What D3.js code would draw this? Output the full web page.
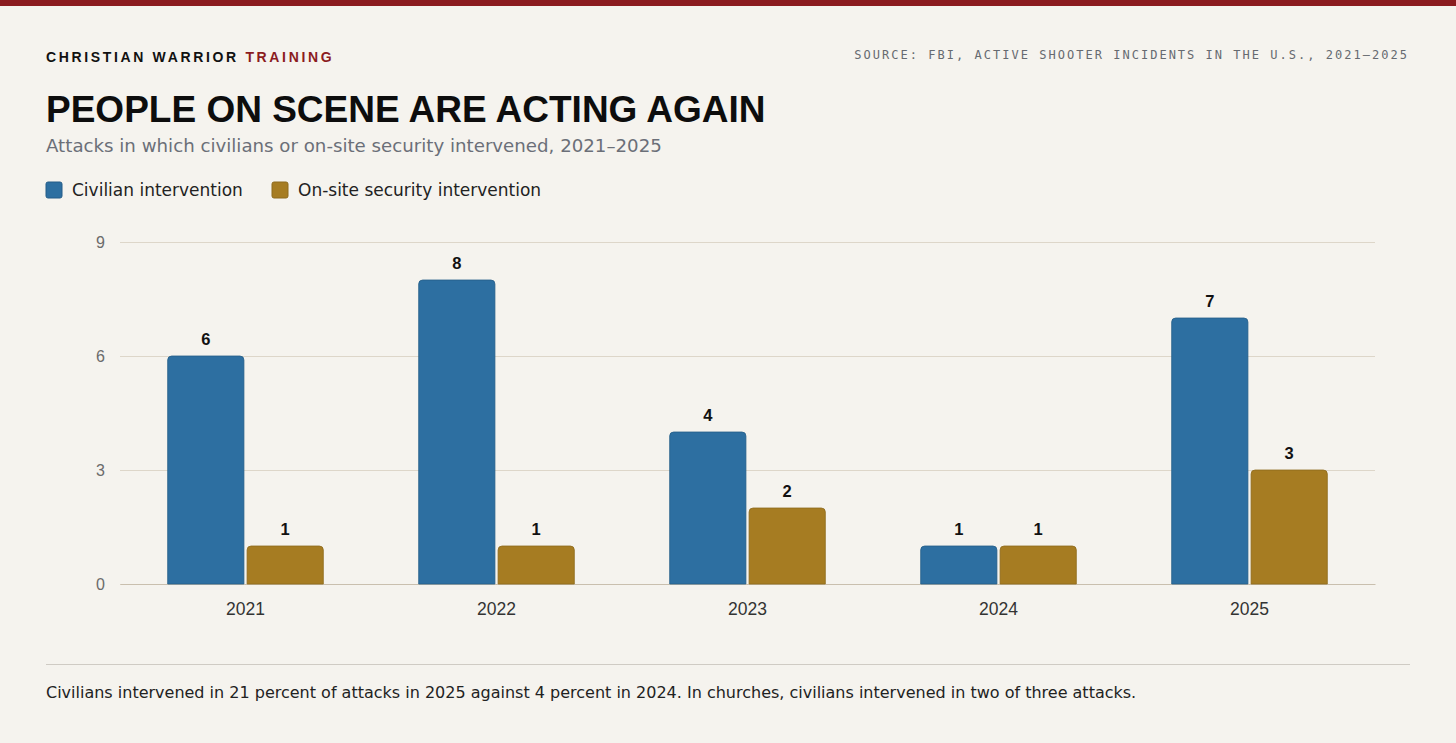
<!DOCTYPE html>
<html>
<head>
<meta charset="utf-8">
<script src="https://cdn.jsdelivr.net/npm/d3@7"></script>
<style>
  html, body { margin: 0; padding: 0; background: #f5f3ee; }
  svg { display: block; }
</style>
</head>
<body>
<svg id="chart" width="1456" height="743"></svg>
<script>
// data
const years = ['2021', '2022', '2023', '2024', '2025']
const civilian = [6, 8, 4, 1, 7]
const security = [1, 1, 2, 1, 3]
const seriesNames = ['Civilian intervention', 'On-site security intervention']
const yTicks = [0, 3, 6, 9]

const colors = ['#2d6fa1', '#a67c22']
const strokes = ['#255d88', '#8e6a1c']

const W = 1456, H = 743
const svg = d3.select('#chart')

svg.append('rect').attr('width', W).attr('height', H).attr('fill', '#f5f3ee')
svg.append('rect').attr('width', W).attr('height', 6).attr('fill', '#8b1c1f')

// header
const brand = svg.append('text')
  .attr('x', 46).attr('y', 62)
  .style('font-family', '"Liberation Sans", Arial, sans-serif')
  .style('font-weight', 'bold')
  .style('font-size', '14px')
  .style('letter-spacing', '2.65px')
  .attr('fill', '#111')
brand.append('tspan').text('CHRISTIAN WARRIOR ')
brand.append('tspan').attr('fill', '#8b1c1f').text('TRAINING')

svg.append('text')
  .attr('x', 1409).attr('y', 59)
  .attr('text-anchor', 'end')
  .style('font-family', '"DejaVu Sans Mono", monospace')
  .style('font-size', '12px')
  .style('letter-spacing', '2.02px')
  .attr('fill', '#666a70')
  .text('SOURCE: FBI, ACTIVE SHOOTER INCIDENTS IN THE U.S., 2021\u20132025')

svg.append('text')
  .attr('x', 46).attr('y', 122)
  .style('font-family', '"Liberation Sans", Arial, sans-serif')
  .style('font-weight', 'bold')
  .style('font-size', '37px')
  .style('letter-spacing', '0px')
  .attr('fill', '#0d0d0d')
  .text('PEOPLE ON SCENE ARE ACTING AGAIN')

svg.append('text')
  .attr('x', 46).attr('y', 152)
  .style('font-family', '"DejaVu Sans", sans-serif')
  .style('font-size', '18.2px')
  .attr('fill', '#6b6f78')
  .text('Attacks in which civilians or on-site security intervened, 2021\u20132025')

// legend
const legendX = [46, 272]
seriesNames.forEach((name, i) => {
  const g = svg.append('g').attr('transform', `translate(${legendX[i]},182)`)
  g.append('rect')
    .attr('width', 16).attr('height', 16).attr('rx', 2)
    .attr('fill', colors[i]).attr('stroke', strokes[i]).attr('stroke-width', 1)
  g.append('text')
    .attr('x', 26).attr('y', 14)
    .style('font-family', '"DejaVu Sans", sans-serif')
    .style('font-size', '17px')
    .attr('fill', '#222')
    .text(name)
})

// plot
const plotLeft = 120, plotRight = 1375, plotTop = 242, plotBottom = 584

const x0 = d3.scaleBand().domain(years).range([plotLeft, plotRight]).padding(0)
const groupW = x0.bandwidth() * 0.62
const x1 = d3.scaleBand().domain([0, 1])
  .range([(x0.bandwidth() - groupW) / 2, (x0.bandwidth() + groupW) / 2])
  .paddingInner(0.04)
const y = d3.scaleLinear().domain([0, 9]).range([plotBottom, plotTop])

const yAxis = svg.append('g')
  .attr('transform', `translate(${plotLeft},0)`)
  .call(d3.axisLeft(y).tickValues(yTicks).tickSize(-(plotRight - plotLeft)).tickPadding(15))
yAxis.select('.domain').remove()
yAxis.selectAll('.tick line').attr('stroke', '#ddd6c9').attr('stroke-width', 1)
yAxis.selectAll('.tick text')
  .style('font-family', '"Liberation Sans", Arial, sans-serif')
  .style('font-size', '16px')
  .attr('fill', '#6b6b6b')

const xAxis = svg.append('g')
  .attr('transform', `translate(0,${plotBottom})`)
  .call(d3.axisBottom(x0).tickSize(0).tickPadding(19))
xAxis.select('.domain').attr('stroke', '#c9bfae').attr('stroke-width', 1.2)
xAxis.selectAll('.tick text')
  .style('font-family', '"Liberation Sans", Arial, sans-serif')
  .style('font-size', '17.5px')
  .attr('fill', '#333')

function topRounded(x, yTop, w, h, r) {
  return `M${x},${yTop + h}V${yTop + r}Q${x},${yTop} ${x + r},${yTop}` +
    `H${x + w - r}Q${x + w},${yTop} ${x + w},${yTop + r}V${yTop + h}Z`
}

const rows = years.map((yr, i) => ({ year: yr, values: [civilian[i], security[i]] }))

const groups = svg.append('g').selectAll('g.year')
  .data(rows)
  .join('g')
  .attr('class', 'year')
  .attr('transform', d => `translate(${x0(d.year)},0)`)

groups.selectAll('path')
  .data(d => d.values.map((v, k) => ({ v, k })))
  .join('path')
  .attr('d', d => topRounded(x1(d.k), y(d.v), x1.bandwidth(), plotBottom - y(d.v), 4))
  .attr('fill', d => colors[d.k])
  .attr('stroke', d => strokes[d.k])
  .attr('stroke-width', 0.8)

groups.selectAll('text.val')
  .data(d => d.values.map((v, k) => ({ v, k })))
  .join('text')
  .attr('class', 'val')
  .attr('x', d => x1(d.k) + x1.bandwidth() / 2)
  .attr('y', d => y(d.v) - 11)
  .attr('text-anchor', 'middle')
  .style('font-family', '"Liberation Sans", Arial, sans-serif')
  .style('font-weight', 'bold')
  .style('font-size', '16.5px')
  .attr('fill', '#111')
  .text(d => d.v)

// footer
svg.append('line')
  .attr('x1', 46).attr('x2', 1410).attr('y1', 664.5).attr('y2', 664.5)
  .attr('stroke', '#cfcbc4').attr('stroke-width', 1)

svg.append('text')
  .attr('x', 46).attr('y', 698)
  .style('font-family', '"DejaVu Sans", sans-serif')
  .style('font-size', '16px')
  .attr('fill', '#222')
  .text('Civilians intervened in 21 percent of attacks in 2025 against 4 percent in 2024. In churches, civilians intervened in two of three attacks.')
</script>
</body>
</html>
